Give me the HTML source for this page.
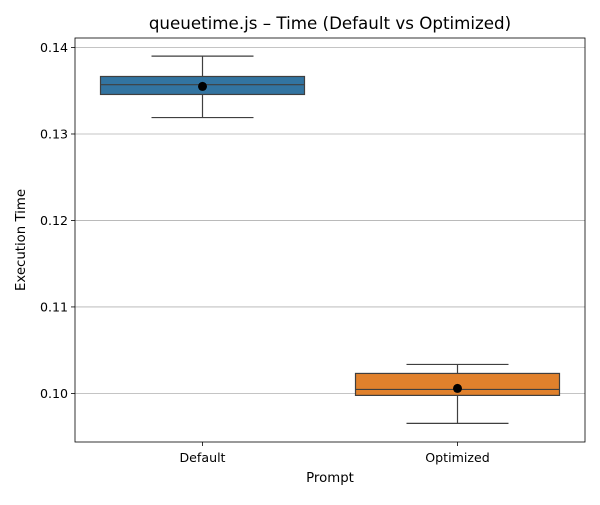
<!DOCTYPE html>
<html><head><meta charset="utf-8"><style>
body{margin:0;background:#fff;}
svg text{font-family:"DejaVu Sans","Liberation Sans",sans-serif;fill:#000;}
</style></head><body>
<svg id="chart" width="600" height="500" xmlns="http://www.w3.org/2000/svg">
<rect x="0" y="0" width="600" height="500" fill="#fff"/>
<g id="grid"></g><g id="marks"></g><g id="axes"></g>
<text x="330" y="29" font-size="16.7" text-anchor="middle">queuetime.js – Time (Default vs Optimized)</text>
<text x="330" y="482" font-size="13.3" text-anchor="middle">Prompt</text>
<text x="25" y="240" font-size="13.3" text-anchor="middle" transform="rotate(-90 25 240)">Execution Time</text>
</svg>
<script>
const categories=["Default","Optimized"];
const whiskerLow=[0.1319,0.09653];
const q1=[0.13457,0.09977];
const medians=[0.1357,0.10046];
const q3=[0.13665,0.10231];
const whiskerHigh=[0.1390,0.10335];
const means=[0.1355,0.10058];
const yTicks=[0.10,0.11,0.12,0.13,0.14];
const colors=["#3274a1","#e1812c"];
const L=75,R=585,T=38,B=442,yMin=0.09438,yMax=0.14110;
const NS="http://www.w3.org/2000/svg";
function y(v){return B-(v-yMin)/(yMax-yMin)*(B-T);}
const band=(R-L)/categories.length;
function x(i){return L+band*(i+0.5);}
function mk(tag,attrs,parent){const e=document.createElementNS(NS,tag);for(const k in attrs)e.setAttribute(k,attrs[k]);document.getElementById(parent).appendChild(e);return e;}
yTicks.forEach(t=>{
  const g=mk('line',{x1:L,x2:R,y1:y(t),y2:y(t),stroke:'#b0b0b0','stroke-width':0.8},'grid');
  
  
  mk('line',{x1:L-4,x2:L,y1:y(t),y2:y(t),stroke:'#000','stroke-width':0.8},'axes');
  const tx=mk('text',{x:L-7,y:y(t)+4.5,'font-size':12.6,'text-anchor':'end'},'axes');
  tx.textContent=t.toFixed(2);
  
  
});
categories.forEach((c,i)=>{
  const cx=x(i),bw=band*0.8,cw=bw/2,s='#3f3f3f';
  const w1=mk('line',{x1:cx,x2:cx,y1:y(whiskerHigh[i]),y2:y(q3[i]),stroke:s,'stroke-width':1.2},'marks');
  
  
  const w2=mk('line',{x1:cx,x2:cx,y1:y(q1[i]),y2:y(whiskerLow[i]),stroke:s,'stroke-width':1.2},'marks');
  
  
  mk('line',{x1:cx-cw/2,x2:cx+cw/2,y1:y(whiskerHigh[i]),y2:y(whiskerHigh[i]),stroke:s,'stroke-width':1.2},'marks');
  mk('line',{x1:cx-cw/2,x2:cx+cw/2,y1:y(whiskerLow[i]),y2:y(whiskerLow[i]),stroke:s,'stroke-width':1.2},'marks');
  const b=mk('rect',{x:cx-bw/2,y:y(q3[i]),width:bw,height:y(q1[i])-y(q3[i]),fill:colors[i],stroke:s,'stroke-width':1.2},'marks');
  
  
  const m=mk('line',{x1:cx-bw/2,x2:cx+bw/2,y1:y(medians[i]),y2:y(medians[i]),stroke:s,'stroke-width':1.2},'marks');
  
  
  const p=mk('circle',{cx:cx,cy:y(means[i]),r:4.5,fill:'#000'},'marks');
  
  
  mk('line',{x1:cx,x2:cx,y1:B,y2:B+4,stroke:'#000','stroke-width':0.8},'axes');
  const tx=mk('text',{x:cx,y:B+20,'font-size':12.6,'text-anchor':'middle'},'axes');
  tx.textContent=c;
  
  
});
const f=mk('rect',{x:L,y:T,width:R-L,height:B-T,fill:'none',stroke:'#000','stroke-width':0.8},'axes');


</script>
</body></html>
